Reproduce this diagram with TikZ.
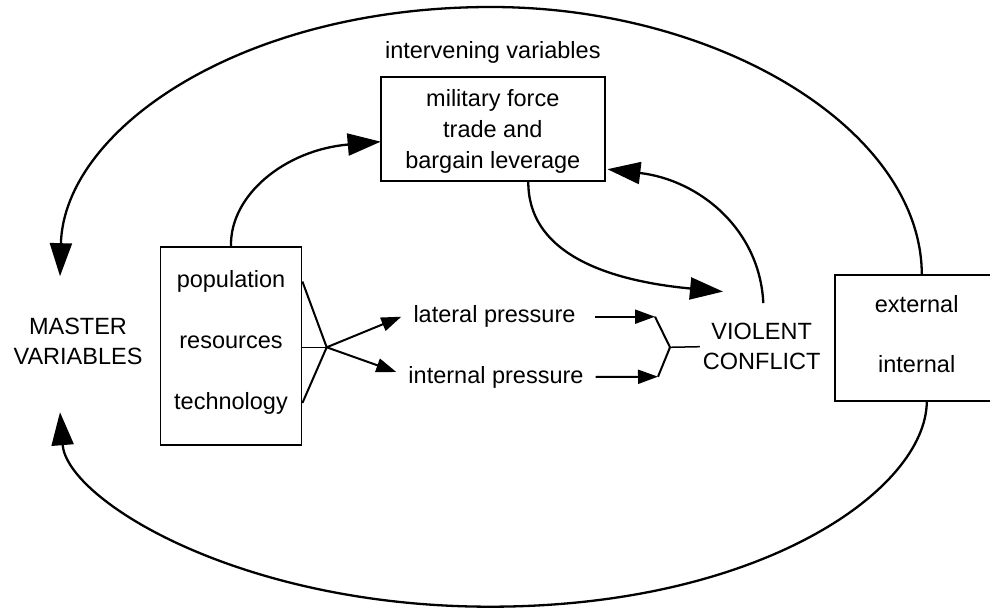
\documentclass[tikz,border=0pt]{standalone}
\usepackage{fontspec}
\setmainfont{Liberation Sans}
\usetikzlibrary{arrows.meta,calc}
\begin{document}
\begin{tikzpicture}[x=1pt,y=-1pt,
  txt/.style={font=\fontsize{23.5}{30}\selectfont, inner sep=0pt, align=center},
  word/.style={txt, text height=17pt, text depth=5pt},
  boxn/.style={draw, line width=1.8pt, inner sep=0pt},
  curve/.style={line width=2.3pt, -{Triangle[length=33pt,width=22pt]}},
  small/.style={line width=2pt, -{Triangle[length=20pt,width=14pt]}},
  fan/.style={line width=2pt},
  thinl/.style={line width=1.5pt}]
\useasboundingbox (0,0) rectangle (990,609);

% texts and boxes
\node[txt] (iv) at (492.8,52) {intervening variables};
\node[boxn, txt, minimum width=224.4pt, minimum height=104.3pt,
      font=\fontsize{23.5}{31}\selectfont] (mil) at (492.8,128.85)
      {\rule{0pt}{23pt}military force\\trade and\\bargain leverage};

\node[boxn, minimum width=141pt, minimum height=198.3pt] (src) at (231,345.85) {};
\node[word] (pop) at (231,281.5) {population};
\node[word] (res) at (231,342.5) {resources};
\node[word] (tech) at (231,403) {technology};

\node[txt] (mv) at (78,341.7) {MASTER\\VARIABLES};

\node[word, inner xsep=12pt] (lat) at (494.5,316.7) {lateral pressure};
\node[word, inner xsep=12pt] (int) at (496,377) {internal pressure};

\node[txt, inner xsep=3pt] (vc) at (761.7,346.7) {VIOLENT\\CONFLICT};

\node[boxn, minimum width=163pt, minimum height=125.7pt] (ext) at (916.8,337.85) {};
\node[word] (exl) at (916.7,306.7) {external};
\node[word] (inl) at (916.7,366.7) {internal};

% named free ends
\coordinate (fj) at (326.7,347.3);
\coordinate (bt) at (655,316.7);
\coordinate (bb) at (658,376.7);
\coordinate (br) at (670,347.3);
\coordinate (mvt) at ($(mv.north)+(-18,-42)$);
\coordinate (mvb) at ($(mv.south)+(-18,47)$);
\coordinate (vcin) at ($(vc.north)+(-38.7,-31.6)$);
\coordinate (vcout) at ($(vc.north)+(1.6,-20)$);

% fan from master variables box
\draw[thinl] (src.east |- fj) -- (fj);
\draw[fan] (src.east |- pop) -- (fj) -- (src.east |- tech);
\draw[small] (fj) -- (lat.west);
\draw[small] (fj) -- ([yshift=5pt]int.west);

% into violent conflict
\draw[small] ([xshift=7pt]lat.east) -- (bt);
\draw[small] (int.east) -- (bb);
\draw[fan] (bt) -- (br) -- (bb);
\draw[thinl] (br) -- (vc.west);

% inner curves
\draw[curve] (src.north) .. controls (230,195) and (285,150) .. ($(mil.west)+(1,12.85)$);
\draw[curve] ($(mil.south)+(35.5,0)$) .. controls (528,250) and (600,280) .. (vcin);
\draw[curve] (vcout) .. controls (760,230) and (700,180) .. ($(mil.south east)+(1.5,-12.7)$);

% outer arcs
\draw[curve] ($(ext.north)+(5,0)$) .. controls (921,130) and (720,7) .. (491,7)
   .. controls (240,7) and (64,130) .. (mvt);
\draw[curve] ($(ext.south)+(10,0)$) .. controls (926,490) and (760,606.7) .. (490,606.7)
   .. controls (240,606.7) and (67,500) .. (mvb);
\end{tikzpicture}
\end{document}
